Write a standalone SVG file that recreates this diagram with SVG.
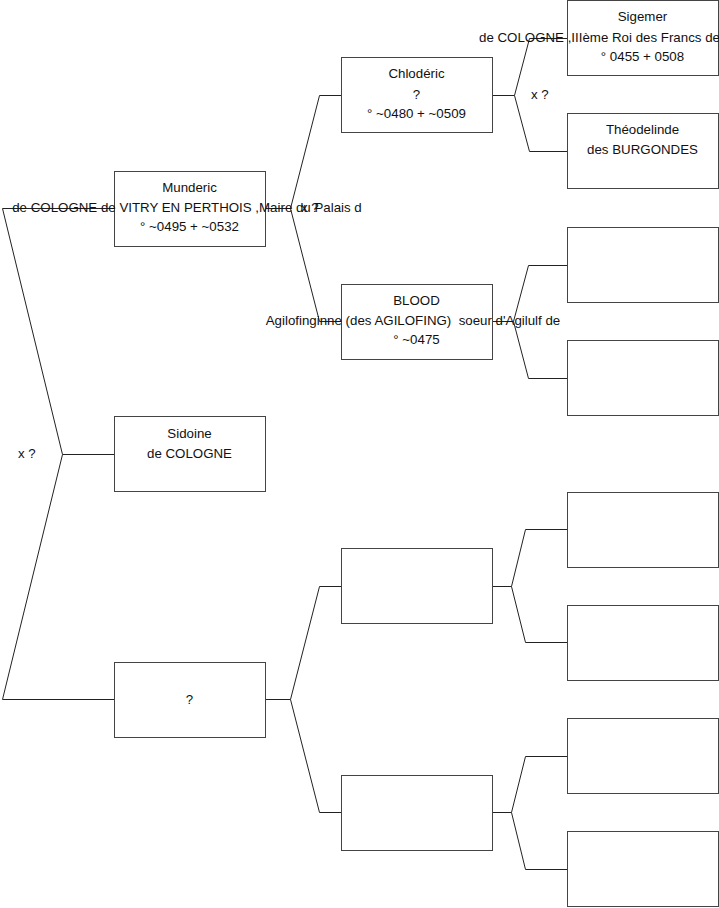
<svg xmlns="http://www.w3.org/2000/svg" width="719" height="908" viewBox="0 0 719 908">
<style>
  .box { fill: #ffffff; stroke: #444444; stroke-width: 1; }
  .conn { fill: none; stroke: #222222; stroke-width: 1; }
  text { font-family: "Liberation Sans", Arial, sans-serif; font-size: 13.3px; fill: #111111; }
  .c { text-anchor: middle; }
</style>
<rect x="0" y="0" width="719" height="908" fill="#ffffff"/>
<g id="connectors">
  <polyline class="conn" points="114,208.5 2.5,208.5 62.5,454.5 2.5,699.5 114,699.5"/>
  <line class="conn" x1="62.5" y1="454.5" x2="114" y2="454.5"/>
  <polyline class="conn" points="341,95.5 319.5,95.5 290.5,208.5 319.5,321.5 341,321.5"/>
  <line class="conn" x1="265" y1="208.5" x2="290.5" y2="208.5"/>
  <polyline class="conn" points="341,586.5 319.5,586.5 290.5,699.5 319.5,812.5 341,812.5"/>
  <line class="conn" x1="265" y1="699.5" x2="290.5" y2="699.5"/>
  <polyline class="conn" points="567,38.5 529.5,38.5 514.5,95.5 529.5,151.5 567,151.5"/>
  <line class="conn" x1="492" y1="95.5" x2="514.5" y2="95.5"/>
  <polyline class="conn" points="567,265.5 528.5,265.5 513.5,321.5 528.5,378.5 567,378.5"/>
  <line class="conn" x1="492" y1="321.5" x2="513.5" y2="321.5"/>
  <polyline class="conn" points="567,529.5 525.5,529.5 511.5,586.5 525.5,642.5 567,642.5"/>
  <line class="conn" x1="492" y1="586.5" x2="511.5" y2="586.5"/>
  <polyline class="conn" points="567,756.5 525.5,756.5 511.5,812.5 525.5,869.5 567,869.5"/>
  <line class="conn" x1="492" y1="812.5" x2="511.5" y2="812.5"/>
</g>
<g id="labels">
  <text x="18" y="457.5">x ?</text>
  <text x="301" y="212">x ?</text>
  <text x="531" y="98.5">x ?</text>
</g>
<g id="munderic">
  <rect class="box" x="114.5" y="171.5" width="151" height="75"/>
  <text class="c" x="189.5" y="191.5">Munderic</text>
  <text class="c" x="187" y="212">de COLOGNE de VITRY EN PERTHOIS ,Maire du Palais d</text>
  <text class="c" x="189.5" y="231">° ~0495 + ~0532</text>
</g>
<g id="sidoine">
  <rect class="box" x="114.5" y="416.5" width="151" height="75"/>
  <text class="c" x="189.5" y="438">Sidoine</text>
  <text class="c" x="189.5" y="458">de COLOGNE</text>
</g>
<g id="unknown">
  <rect class="box" x="114.5" y="662.5" width="151" height="75"/>
  <text class="c" x="189.5" y="703.5">?</text>
</g>
<g id="chloderic">
  <rect class="box" x="341.5" y="57.5" width="151" height="75"/>
  <text class="c" x="416.5" y="78">Chlodéric</text>
  <text class="c" x="416.5" y="98.5">?</text>
  <text class="c" x="416.5" y="118">° ~0480 + ~0509</text>
</g>
<g id="blood">
  <rect class="box" x="341.5" y="284.5" width="151" height="75"/>
  <text class="c" x="416.5" y="304.5">BLOOD</text>
  <text class="c" x="413" y="324.5" xml:space="preserve">Agilofinginne (des AGILOFING)  soeur d'Agilulf de</text>
  <text class="c" x="416.5" y="344">° ~0475</text>
</g>
<g id="gen2-empty-1">
  <rect class="box" x="341.5" y="548.5" width="151" height="75"/>
</g>
<g id="gen2-empty-2">
  <rect class="box" x="341.5" y="775.5" width="151" height="75"/>
</g>
<g id="sigemer">
  <rect class="box" x="567.5" y="0.5" width="151" height="75"/>
  <text class="c" x="642.5" y="21">Sigemer</text>
  <text x="479" y="41.5">de COLOGNE ,IIIème Roi des Francs de</text>
  <text class="c" x="642.5" y="61">° 0455 + 0508</text>
</g>
<g id="theodelinde">
  <rect class="box" x="567.5" y="113.5" width="151" height="75"/>
  <text class="c" x="642.5" y="134">Théodelinde</text>
  <text class="c" x="642.5" y="154">des BURGONDES</text>
</g>
<g id="gen3-empty-1"><rect class="box" x="567.5" y="227.5" width="151" height="75"/></g>
<g id="gen3-empty-2"><rect class="box" x="567.5" y="340.5" width="151" height="75"/></g>
<g id="gen3-empty-3"><rect class="box" x="567.5" y="492.5" width="151" height="75"/></g>
<g id="gen3-empty-4"><rect class="box" x="567.5" y="605.5" width="151" height="75"/></g>
<g id="gen3-empty-5"><rect class="box" x="567.5" y="718.5" width="151" height="75"/></g>
<g id="gen3-empty-6"><rect class="box" x="567.5" y="831.5" width="151" height="75"/></g>
</svg>
